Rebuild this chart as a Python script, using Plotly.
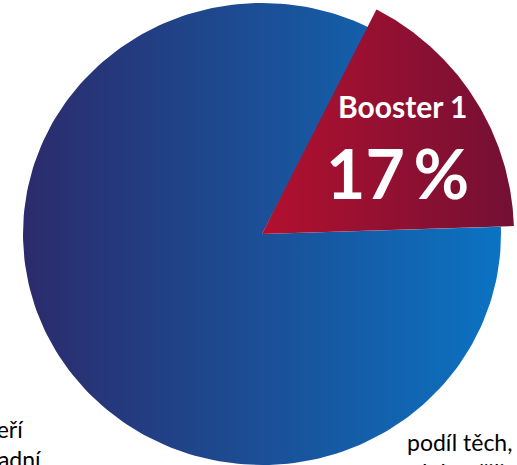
import numpy as np
import plotly.graph_objects as go

# share of people, in percent
groups = ["Booster 1", "ostatní"]
shares = [17, 83]
slice_labels = ["Booster 1", "17 %"]
left_note = ["kteří", "základní"]
right_note = ["podíl těch,", "dokončili"]

W, H = 517, 465
CX, CY = 262, 234              # pie centre (px)
RX_BLUE, RY_BLUE = 239, 231    # the slide's pie is a touch squashed
R_RED = 252                    # the highlighted slice sticks out
START = 27                     # degrees clockwise from 12 o'clock

BLUE = [[0, "#2b2b6b"], [1, "#0b73c3"]]
RED = [[0, "#b3102f"], [1, "#731034"]]


def wedge(a0, a1, rx, ry, n=200):
    t = np.radians(np.linspace(a0, a1, n))
    x = np.concatenate([[CX], CX + rx * np.sin(t), [CX]])
    y = np.concatenate([[CY], CY - ry * np.cos(t), [CY]])
    return x, y


total = sum(shares)
a_red0 = START
a_red1 = START + 360 * shares[0] / total

fig = go.Figure()
bx, by = wedge(a_red1, START + 360, RX_BLUE, RY_BLUE)
fig.add_trace(go.Scatter(
    x=bx, y=by, mode="lines", fill="toself", line=dict(width=0),
    fillgradient=dict(type="horizontal", colorscale=BLUE),
    name=groups[1], hoverinfo="skip"))
rx, ry = wedge(a_red0, a_red1, R_RED, R_RED)
fig.add_trace(go.Scatter(
    x=rx, y=ry, mode="lines", fill="toself", line=dict(width=0),
    fillgradient=dict(type="horizontal", colorscale=RED),
    name=groups[0], hoverinfo="skip"))

fig.add_annotation(x=403, y=106, text=f"<b>{slice_labels[0]}</b>", showarrow=False,
                   font=dict(family="Lato", size=30, color="white"))
# thin space keeps "17 %" as tight as on the slide
fig.add_annotation(x=397, y=172, text=f"<b>{slice_labels[1].replace(' ', chr(8201))}</b>",
                   showarrow=False, font=dict(family="Lato", size=68, color="white"))

# side notes run past the edges of the picture, as in the source slide
fig.add_annotation(x=0, y=444, text="<br>".join(left_note), showarrow=False,
                   xanchor="center", yanchor="middle", align="center",
                   font=dict(family="Lato", size=23, color="black"))
fig.add_annotation(x=459, y=457, text="<br>".join(right_note), showarrow=False,
                   xanchor="center", yanchor="middle", align="center",
                   font=dict(family="Lato", size=23, color="black"))

fig.update_layout(
    width=W, height=H, margin=dict(l=0, r=0, t=0, b=0),
    paper_bgcolor="white", plot_bgcolor="white", showlegend=False,
    xaxis=dict(range=[0, W], visible=False, fixedrange=True),
    yaxis=dict(range=[H, 0], visible=False, fixedrange=True),
)
fig.write_html("out.html", config={"displayModeBar": False},
               post_script="document.body.style.margin='0';")
